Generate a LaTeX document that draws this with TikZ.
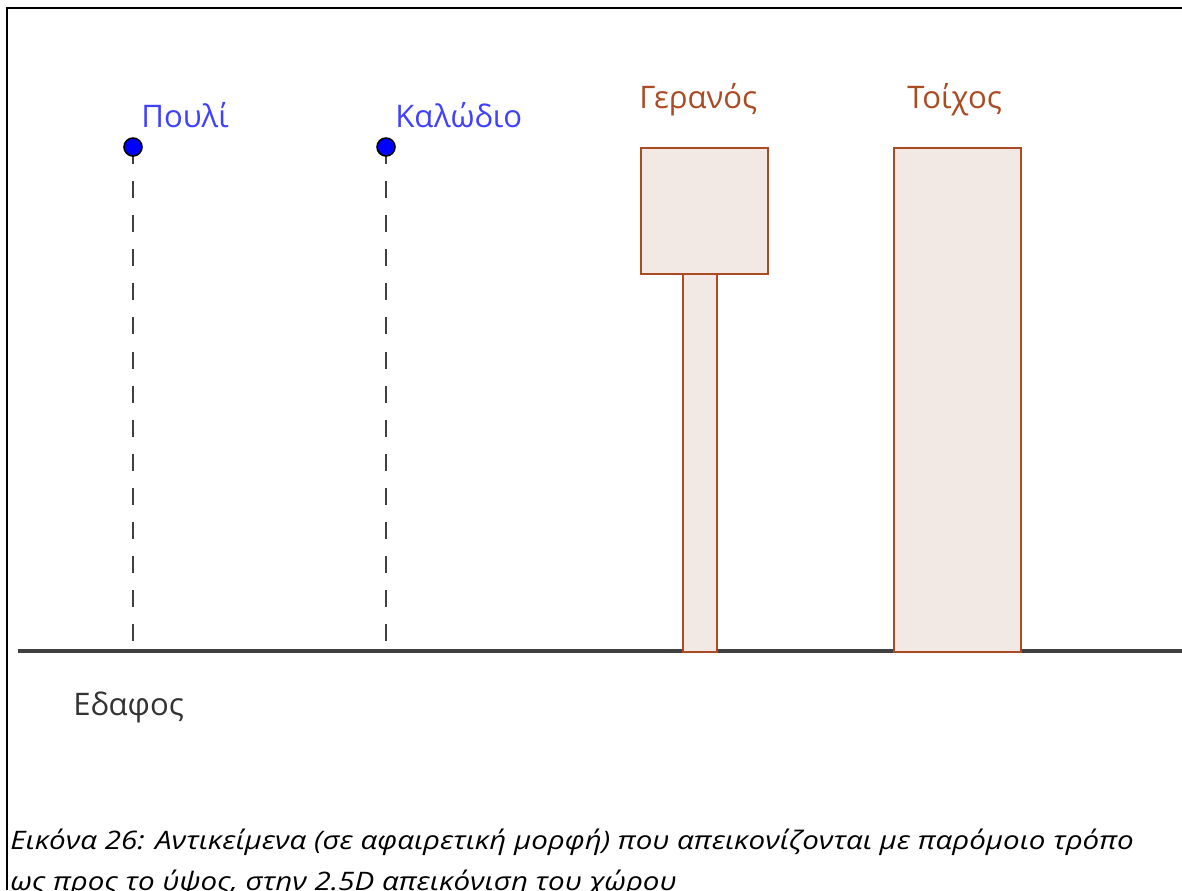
\documentclass[tikz,border=0pt]{standalone}
\usepackage{fontspec}
\newfontfamily\lblfont{Open Sans}
\newfontfamily\capfont{Open Sans}
\usepackage{xcolor}
\definecolor{ptblue}{RGB}{0,0,255}
\definecolor{lbblue}{RGB}{64,64,255}
\definecolor{objbrown}{RGB}{170,75,35}
\definecolor{objfill}{RGB}{243,233,228}
\definecolor{grounddark}{RGB}{64,64,64}
\usetikzlibrary{positioning}

\tikzset{
  ptdot/.style={circle, draw=black, line width=0.9pt, fill=ptblue, minimum size=0.36cm, inner sep=0pt},
  lbltext/.style={font=\lblfont\fontsize{17.7}{20}\selectfont, inner sep=0pt, anchor=base west},
  lblblue/.style={lbltext, text=lbblue},
  lblbrown/.style={lbltext, text=objbrown},
  objbox/.style={draw=objbrown, line width=1.1pt, fill=objfill, inner sep=0pt, anchor=north west},
  guide/.style={grounddark, line width=1.1pt, dash pattern=on 9.7pt off 9.7pt},
}

\begin{document}
\begin{tikzpicture}[x=0.02cm, y=-0.02cm]

\path[use as bounding box, clip] (0,0) rectangle (1182,890);
\fill[white] (0,0) rectangle (1182,890);

% frame (left and top only)
\draw[black, line width=0.9pt] (7,890) -- (7,8) -- (1182,8);

% ground
\coordinate (gL) at (18,651);
\coordinate (gR) at (1182,651);
\coordinate (gA) at (133,651);
\coordinate (gB) at (386,651);

% points above ground
\draw[guide] (133,147) -- (gA);
\draw[guide] (386,147) -- (gB);
\node[ptdot] (bird) at (133,147) {};
\node[ptdot] (cable) at (386,147) {};
\node[lblblue] (birdlbl) at (141,127) {Πουλί};
\node[lblblue] (cablelbl) at (395,127) {Καλώδιο};

\draw[grounddark, line width=2pt] (gL) -- (gR);

% crane
\node[objbox, minimum width=0.68cm, minimum height=7.56cm] (pole) at (682,273) {};
\node[objbox, minimum width=2.54cm, minimum height=2.52cm] (crane) at (640,147) {};
\node[lblbrown] (cranelbl) at (639,108) {Γερανός};

% wall
\node[objbox, minimum width=2.54cm, minimum height=10.08cm] (wall) at (893,147) {};
\node[lblbrown] (walllbl) at (907,108) {Τοίχος};

\node[lbltext, text=black!80] (groundlbl) at (73,715) {Εδαφος};

% caption (second line cut by the lower edge, as in the page)
\node[font=\capfont\itshape\fontsize{14.5}{23.3}\selectfont, inner sep=0pt, anchor=base west, align=left,
      xscale=1.16, transform shape] (caption) at (10,890)
  {Εικόνα 26: Αντικείμενα (σε αφαιρετική μορφή) που απεικονίζονται με παρόμοιο τρόπο\\ως προς το ύψος, στην 2.5D απεικόνιση του χώρου};

\end{tikzpicture}
\end{document}
